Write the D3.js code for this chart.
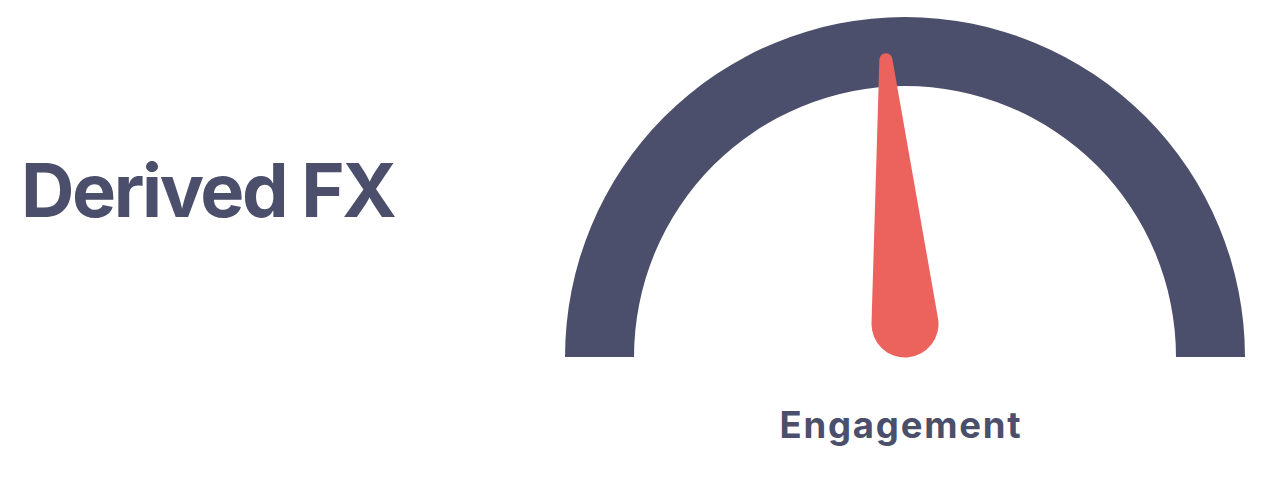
<!DOCTYPE html>
<html><head><meta charset="utf-8">
<script src="https://cdn.jsdelivr.net/npm/d3@7"></script>
<style>body{margin:0;background:#fff}svg{display:block}</style>
</head><body>
<svg id="c" width="1274" height="480"></svg>
<script>
const title = "Derived FX";
const gaugeLabel = "Engagement";
const gaugeMin = [0];
const gaugeMax = [100];
const gaugeValue = [47.7];

const W = 1274, H = 480;
const svg = d3.select("#c");
const dark = "#4b4f6b", red = "#ec635e";
const cx = 905, cy = 357, rOuter = 340, rInner = 271;

const angle = d3.scaleLinear().domain([gaugeMin[0], gaugeMax[0]]).range([-Math.PI/2, Math.PI/2]);

const g = svg.append("g").attr("transform", `translate(${cx},${cy})`);
g.append("path")
  .attr("d", d3.arc()({innerRadius: rInner, outerRadius: rOuter, startAngle: angle(gaugeMin[0]), endAngle: angle(gaugeMax[0])}))
  .attr("fill", dark);

// needle
const R = 33.5, r = 6.5, L = 265, py = -33;
const a = angle(gaugeValue[0]);
const s = Math.asin((R - r) / L);
function needlePath() {
  const p = d3.path();
  const bl = [-R*Math.cos(s), -R*Math.sin(s)];
  const br = [ R*Math.cos(s), -R*Math.sin(s)];
  const tl = [-r*Math.cos(s), -L - r*Math.sin(s)];
  p.moveTo(bl[0], bl[1]);
  p.lineTo(tl[0], tl[1]);
  p.arc(0, -L, r, Math.PI + s, 2*Math.PI - s, false);
  p.lineTo(br[0], br[1]);
  p.arc(0, 0, R, -s, Math.PI + s, false);
  p.closePath();
  return p.toString();
}
g.append("path")
  .attr("transform", `translate(0,${py}) rotate(${a*180/Math.PI})`)
  .attr("d", needlePath())
  .attr("fill", red);

svg.append("text")
  .attr("x", 21).attr("y", 217)
  .attr("font-family", "Inter, Roboto, sans-serif")
  .attr("font-weight", 700)
  .attr("font-size", 74)
  .attr("letter-spacing", -2.4)
  .attr("fill", dark)
  .text(title);

svg.append("text")
  .attr("x", 901).attr("y", 438)
  .attr("text-anchor", "middle")
  .attr("font-family", "Inter, Roboto, sans-serif")
  .attr("font-weight", 700)
  .attr("font-size", 36.5)
  .attr("letter-spacing", 1.8)
  .attr("fill", dark)
  .text(gaugeLabel);
</script>
</body></html>
